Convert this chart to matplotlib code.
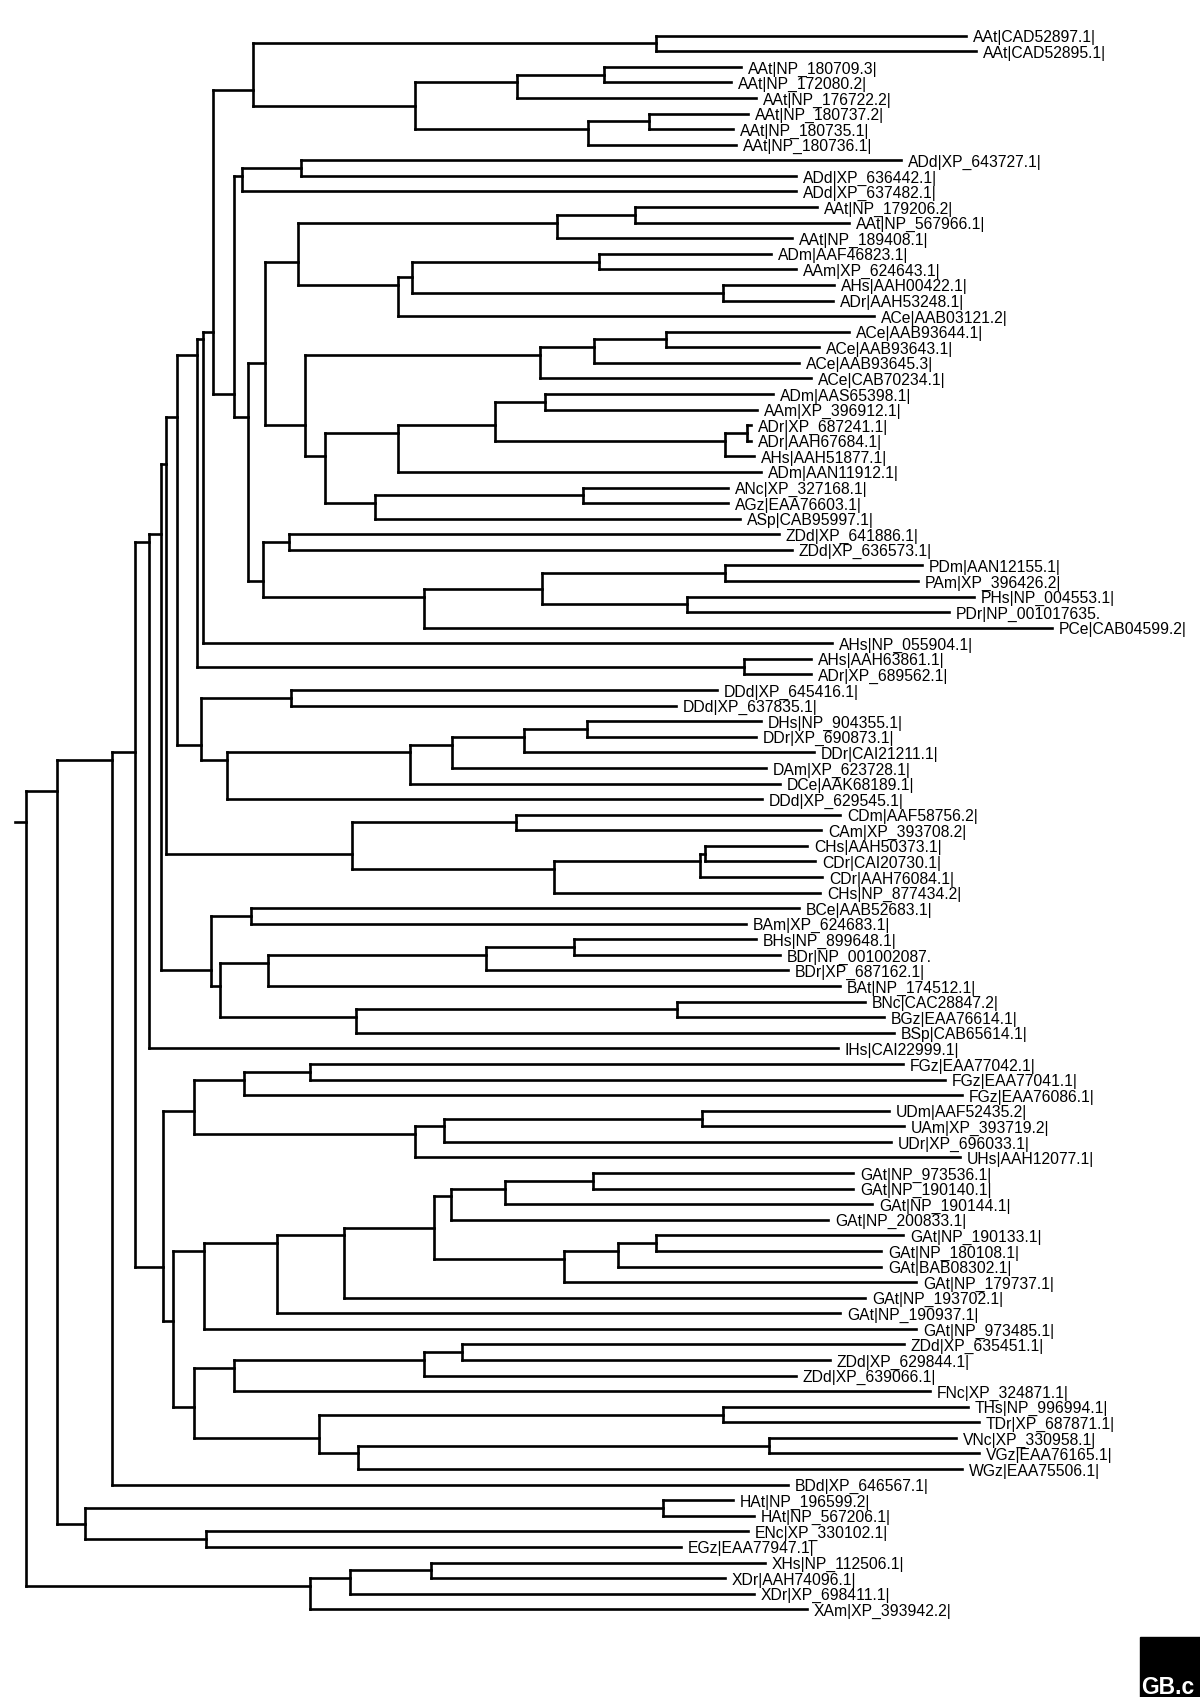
import matplotlib
matplotlib.use("Agg")
import matplotlib.pyplot as plt
from matplotlib.collections import LineCollection
from matplotlib.patches import Rectangle

# Namen der Blätter (von oben nach unten)
leaf_labels = [
    "AAt|CAD52897.1|", "AAt|CAD52895.1|", "AAt|NP_180709.3|", "AAt|NP_172080.2|",
    "AAt|NP_176722.2|", "AAt|NP_180737.2|", "AAt|NP_180735.1|", "AAt|NP_180736.1|",
    "ADd|XP_643727.1|", "ADd|XP_636442.1|", "ADd|XP_637482.1|", "AAt|NP_179206.2|",
    "AAt|NP_567966.1|", "AAt|NP_189408.1|", "ADm|AAF46823.1|", "AAm|XP_624643.1|",
    "AHs|AAH00422.1|", "ADr|AAH53248.1|", "ACe|AAB03121.2|", "ACe|AAB93644.1|",
    "ACe|AAB93643.1|", "ACe|AAB93645.3|", "ACe|CAB70234.1|", "ADm|AAS65398.1|",
    "AAm|XP_396912.1|", "ADr|XP_687241.1|", "ADr|AAH67684.1|", "AHs|AAH51877.1|",
    "ADm|AAN11912.1|", "ANc|XP_327168.1|", "AGz|EAA76603.1|", "ASp|CAB95997.1|",
    "ZDd|XP_641886.1|", "ZDd|XP_636573.1|", "PDm|AAN12155.1|", "PAm|XP_396426.2|",
    "PHs|NP_004553.1|", "PDr|NP_001017635.", "PCe|CAB04599.2|", "AHs|NP_055904.1|",
    "AHs|AAH63861.1|", "ADr|XP_689562.1|", "DDd|XP_645416.1|", "DDd|XP_637835.1|",
    "DHs|NP_904355.1|", "DDr|XP_690873.1|", "DDr|CAI21211.1|", "DAm|XP_623728.1|",
    "DCe|AAK68189.1|", "DDd|XP_629545.1|", "CDm|AAF58756.2|", "CAm|XP_393708.2|",
    "CHs|AAH50373.1|", "CDr|CAI20730.1|", "CDr|AAH76084.1|", "CHs|NP_877434.2|",
    "BCe|AAB52683.1|", "BAm|XP_624683.1|", "BHs|NP_899648.1|", "BDr|NP_001002087.",
    "BDr|XP_687162.1|", "BAt|NP_174512.1|", "BNc|CAC28847.2|", "BGz|EAA76614.1|",
    "BSp|CAB65614.1|", "IHs|CAI22999.1|", "FGz|EAA77042.1|", "FGz|EAA77041.1|",
    "FGz|EAA76086.1|", "UDm|AAF52435.2|", "UAm|XP_393719.2|", "UDr|XP_696033.1|",
    "UHs|AAH12077.1|", "GAt|NP_973536.1|", "GAt|NP_190140.1|", "GAt|NP_190144.1|",
    "GAt|NP_200833.1|", "GAt|NP_190133.1|", "GAt|NP_180108.1|", "GAt|BAB08302.1|",
    "GAt|NP_179737.1|", "GAt|NP_193702.1|", "GAt|NP_190937.1|", "GAt|NP_973485.1|",
    "ZDd|XP_635451.1|", "ZDd|XP_629844.1|", "ZDd|XP_639066.1|", "FNc|XP_324871.1|",
    "THs|NP_996994.1|", "TDr|XP_687871.1|", "VNc|XP_330958.1|", "VGz|EAA76165.1|",
    "WGz|EAA75506.1|", "BDd|XP_646567.1|", "HAt|NP_196599.2|", "HAt|NP_567206.1|",
    "ENc|XP_330102.1|", "EGz|EAA77947.1|", "XHs|NP_112506.1|", "XDr|AAH74096.1|",
    "XDr|XP_698411.1|", "XAm|XP_393942.2|",
]

# Abstand der Blätter von der Wurzel
tip_depth = [
    940, 950, 715, 705, 730, 722, 707, 710, 875, 770, 770, 791, 823, 766, 745, 770,
    808, 807, 848, 823, 793, 773, 785, 747, 731, 725, 725, 728, 735, 702, 702, 714,
    753, 766, 896, 892, 948, 923, 1026, 806, 785, 785, 691, 650, 735, 730, 788, 740,
    754, 736, 814, 795, 781, 789, 796, 794, 773, 720, 730, 754, 762, 814, 839, 858,
    868, 812, 877, 919, 936, 863, 878, 865, 934, 827, 827, 846, 802, 877, 855, 855,
    890, 839, 814, 890, 878, 804, 770, 904, 942, 953, 930, 953, 936, 762, 707, 728,
    722, 655, 739, 699, 728, 781,
]

# Topologie: Blattnummer, nach ':' der Abstand des inneren Knotens von der Wurzel
clade_aat = "((1,2):630,(((3,4):578,5):491,((6,7):623,8):562):389):227"
clade_add = "((9,10):275,11):216"
clade_a12 = "(((12,13):609,14):531,(((15,16):573,(17,18):697):386,19):372):272"
clade_ace = "(((20,21):640,22):568,23):514"
clade_a24 = "((((24,25):519,((26,27):721,28):699):469,29):372,((30,31):557,32):349):299"
clade_zp = "((33,34):263,(((35,36):699,(37,38):661):516,39):398):237"
clade_d = "((43,44):265,(((((45,46):561,47):498,48):426,49):384,50):201):175"
clade_c = "((51,52):490,(((53,54):679,55):674,56):528):326"
clade_b = "((57,58):225,((((59,60):548,61):460,62):242,((63,64):651,65):330):194):185"
clade_fu = "(((67,68):284,69):218,(((70,71):676,72):418,73):389):168"
clade_g = ("(((((((74,75):567,76):479,77):425,(((78,79):630,80):592,81):538):408,"
           "82):318,83):251,84):178")
clade_z = "((((85,86):436,87):398,88):208,((89,90):697,((91,92):743,93):332):293):168"
clade_he = "((95,96):637,(97,98):180):59"
clade_x = "(((99,100):405,101):324,102):284"

a_grp = f"(({clade_a12},({clade_ace},{clade_a24}):279):239,{clade_zp}):222"
a_grp = f"(({clade_aat},({clade_add},{a_grp}):208):187,40):177"
a_grp = f"(({a_grp},(41,42):718):171,{clade_d}):151"
upper = f"((({a_grp},{clade_c}):140,{clade_b}):135,66):123"
lower = f"({clade_fu},({clade_g},{clade_z}):147):137"
tree_str = f"(((({upper},{lower}):109,94):86,{clade_he}):31,{clade_x}):0"


def parse(s, i=0):
    if s[i] == "(":
        kids = []
        i += 1
        while True:
            k, i = parse(s, i)
            kids.append(k)
            if s[i] == ",":
                i += 1
            else:
                i += 1
                break
        j = i + 1
        i = j
        while i < len(s) and s[i] not in ",)":
            i += 1
        return {"kids": kids, "x": float(s[j:i])}, i
    j = i
    while s[i] not in ",)":
        i += 1
    n = int(s[j:i]) - 1
    return {"kids": [], "x": tip_depth[n], "leaf": n}, i


def place(node):
    # y = Mittelwert aller Blätter darunter
    if not node["kids"]:
        node["y"] = node["leaf"]
        return [node["leaf"]]
    ls = []
    for k in node["kids"]:
        ls += place(k)
    node["y"] = sum(ls) / len(ls)
    return ls


root, _ = parse(tree_str)
place(root)

segs = []
tips = []


def walk(node):
    if not node["kids"]:
        tips.append(node)
        return
    ys = [k["y"] for k in node["kids"]]
    segs.append([(node["x"], min(ys)), (node["x"], max(ys))])
    for k in node["kids"]:
        segs.append([(node["x"], k["y"]), (k["x"], k["y"])])
        walk(k)


walk(root)
segs.append([(-11, root["y"]), (0, root["y"])])

fig = plt.figure(figsize=(12, 16.97), dpi=100)
ax = fig.add_axes([0, 0, 1, 1])
ax.add_collection(LineCollection(segs, colors="black", linewidths=1.9,
                                 capstyle="projecting", joinstyle="miter"))
for t in tips:
    ax.annotate(leaf_labels[t["leaf"]], (t["x"], t["y"]), xytext=(5, -4.7),
                textcoords="offset points", va="baseline", ha="left",
                fontsize=11.3, family="Liberation Sans", color="black")

ax.set_xlim(-26, 1174)
ax.set_ylim(106.63, -2.29)
ax.axis("off")

# Logo unten rechts
fig.add_artist(Rectangle((1140 / 1200, 0), 60 / 1200, 60 / 1697,
                         transform=fig.transFigure, color="black"))
fig.text(1141 / 1200, 3 / 1697, "GB.c", color="white", fontsize=16.5,
         fontweight="bold", family="Liberation Sans", va="baseline")

fig.savefig("out.png", dpi=100)
